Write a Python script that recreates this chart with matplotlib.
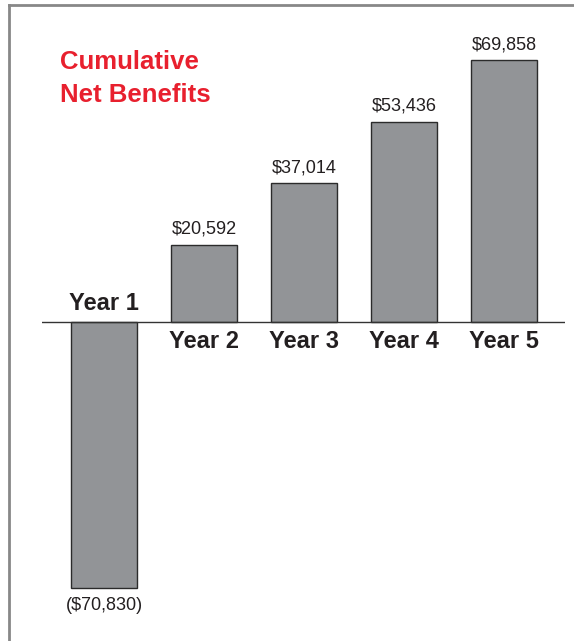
import matplotlib
matplotlib.use("Agg")
import matplotlib.pyplot as plt
from matplotlib.lines import Line2D

years = ["Year 1", "Year 2", "Year 3", "Year 4", "Year 5"]
values = [-70830, 20592, 37014, 53436, 69858]
value_labels = ["($70,830)", "$20,592", "$37,014", "$53,436", "$69,858"]
title_text = "Cumulative\nNet Benefits"

FONT = ['Liberation Sans', 'DejaVu Sans']
plt.rcParams['font.family'] = FONT

W, H = 574, 641
fig = plt.figure(figsize=(W / 100, H / 100), dpi=100)

ax_left, ax_right = 42, 565
ax_top, ax_bottom = 20, 625
ax = fig.add_axes([ax_left / W, 1 - ax_bottom / H, (ax_right - ax_left) / W, (ax_bottom - ax_top) / H])

px_per_unit_x = 100.0
first_center = 104
zero_y = 322
px_per_val = 262 / 69858.0

ax.set_xlim((ax_left - first_center) / px_per_unit_x, (ax_right - first_center) / px_per_unit_x)
ax.set_ylim(-(ax_bottom - zero_y) / px_per_val, (zero_y - ax_top) / px_per_val)

xs = list(range(len(years)))
ax.bar(xs, values, width=0.66, color="#929497", edgecolor="#2b2b2b", linewidth=1.0, zorder=2)
ax.axhline(0, color="#333333", linewidth=1.0, zorder=3)

TXT = "#231f20"
for x, v, lab, yr in zip(xs, values, value_labels, years):
    if v >= 0:
        ax.annotate(lab, (x, v), xytext=(0, 5), textcoords="offset points",
                    ha="center", va="bottom", fontsize=13, color=TXT, family=FONT)
        ax.annotate(yr, (x, 0), xytext=(0, -5.5), textcoords="offset points",
                    ha="center", va="top", fontsize=17, fontweight="bold", color=TXT, family=FONT)
    else:
        ax.annotate(lab, (x, v), xytext=(0, -7), textcoords="offset points",
                    ha="center", va="top", fontsize=13, color=TXT, family=FONT)
        ax.annotate(yr, (x, 0), xytext=(0, 5), textcoords="offset points",
                    ha="center", va="bottom", fontsize=17, fontweight="bold", color=TXT, family=FONT)

ax.axis("off")

fig.text(60 / W, 1 - 50 / H, title_text, ha="left", va="top", fontsize=18.5, fontweight="bold",
         color="#e8202e", linespacing=1.45, family=FONT)

fig.add_artist(Line2D([8.5 / W, 8.5 / W], [0, 1 - 4.5 / H], transform=fig.transFigure, color="#888888", linewidth=2))
fig.add_artist(Line2D([8.5 / W, 1], [1 - 4.5 / H, 1 - 4.5 / H], transform=fig.transFigure, color="#888888", linewidth=2))

fig.savefig("out.png", dpi=100, facecolor="white")
